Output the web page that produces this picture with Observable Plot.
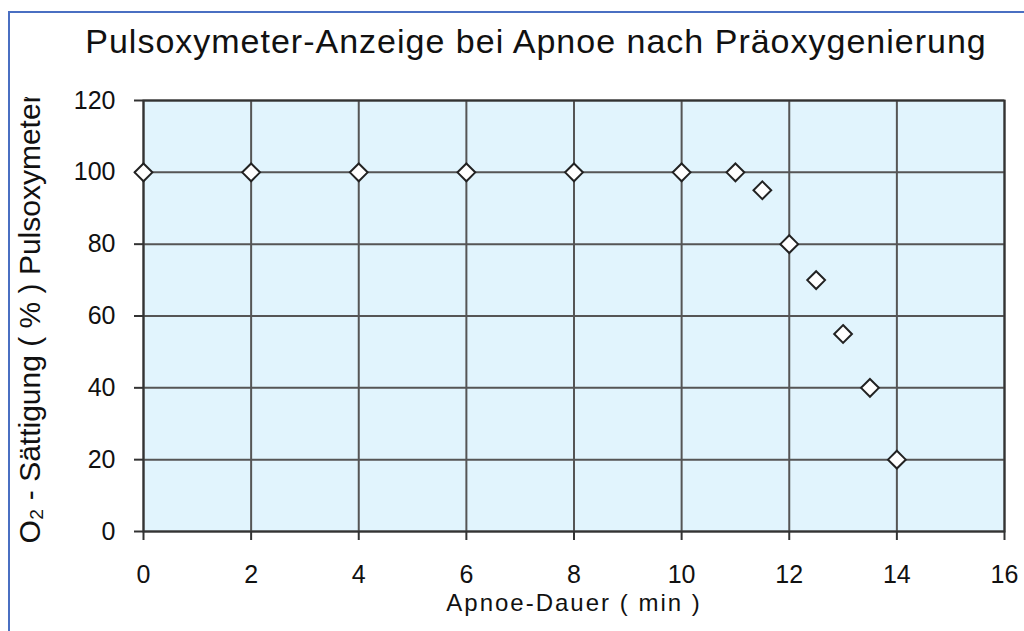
<!DOCTYPE html>
<html><head><meta charset="utf-8">
<script src="https://cdn.jsdelivr.net/npm/d3@7"></script>
<script src="https://cdn.jsdelivr.net/npm/@observablehq/plot@0.6"></script>
<style>
body{margin:0;background:#fff;font-family:"Liberation Sans",Arial,sans-serif;}
#wrap{position:relative;width:1024px;height:631px;overflow:hidden;}
#border{position:absolute;left:8px;top:11px;width:1100px;height:700px;border:2px solid #4a6fc2;box-sizing:border-box;}
#title{position:absolute;left:0;top:24px;width:1024px;text-align:center;font-size:34px;line-height:34px;letter-spacing:1px;padding-left:48px;box-sizing:border-box;color:#111;white-space:nowrap;}
#chart{position:absolute;left:0;top:80px;}
</style></head>
<body><div id="wrap"><div id="border"></div><div id="title">Pulsoxymeter-Anzeige bei Apnoe nach Präoxygenierung</div><div id="chart"></div></div>
<script>
const apnoeMin = [0, 2, 4, 6, 8, 10, 11, 11.5, 12, 12.5, 13, 13.5, 14];
const saturation = [100, 100, 100, 100, 100, 100, 100, 95, 80, 70, 55, 40, 20];
const xTicks = [0, 2, 4, 6, 8, 10, 12, 14, 16];
const yTicks = [0, 20, 40, 60, 80, 100, 120];
const xLabel = "Apnoe-Dauer ( min )";
const yLabel = "O₂ - Sättigung ( % ) Pulsoxymeter";

const data = apnoeMin.map((x, i) => ({x, y: saturation[i]}));
const plot = Plot.plot({
  width: 1024, height: 551,
  marginLeft: 143, marginRight: 20, marginTop: 20, marginBottom: 100,
  style: {fontFamily: '"Liberation Sans", Arial, sans-serif', fontSize: "25px", color: "#111", background: "transparent"},
  x: {domain: [0, 16], ticks: xTicks, label: null},
  y: {domain: [0, 120], ticks: yTicks, label: null},
  marks: [
    Plot.frame({fill: "#e1f4fd"}),
    Plot.gridX(xTicks, {stroke: "#555", strokeWidth: 2, strokeOpacity: 1}),
    Plot.gridY(yTicks, {stroke: "#555", strokeWidth: 2, strokeOpacity: 1}),
    Plot.frame({stroke: "#333", strokeWidth: 2}),
    Plot.axisX(xTicks, {tickSize: 9, tickPadding: 25, stroke: "#333", strokeWidth: 2, fontSize: 25, fill: "#111"}),
    Plot.axisY(yTicks, {tickSize: 9, tickPadding: 19, stroke: "#333", strokeWidth: 2, fontSize: 25, fill: "#111"}),
    Plot.text([xLabel], {frameAnchor: "bottom", dy: 79, fontSize: 24, fill: "#111"}),
    Plot.text([yLabel], {frameAnchor: "bottom-left", dx: -104, dy: 12, rotate: -90, textAnchor: "start", fontSize: 30, fill: "#111"}),
    Plot.dot(data, {x: "x", y: "y", symbol: "diamond2", r: 8, fill: "white", stroke: "#222", strokeWidth: 2})
  ]
});
const svg = d3.select(plot);
// letter spacing like the reference
svg.selectAll("text").filter(function() { return this.textContent === xLabel; })
  .style("letter-spacing", "2px");
// clip the y axis title at the top, as in the reference (wrapped in an untransformed group)
svg.append("defs").append("clipPath").attr("id", "ylabclip")
  .append("rect").attr("x", 0).attr("y", 17).attr("width", 100).attr("height", 530);
svg.selectAll("text").filter(function() { return this.textContent === yLabel; })
  .each(function() {
    const g = this.parentNode;
    const wrapper = document.createElementNS("http://www.w3.org/2000/svg", "g");
    wrapper.setAttribute("clip-path", "url(#ylabclip)");
    g.parentNode.insertBefore(wrapper, g);
    wrapper.appendChild(g);
  });
document.getElementById("chart").appendChild(plot);
</script></body></html>
